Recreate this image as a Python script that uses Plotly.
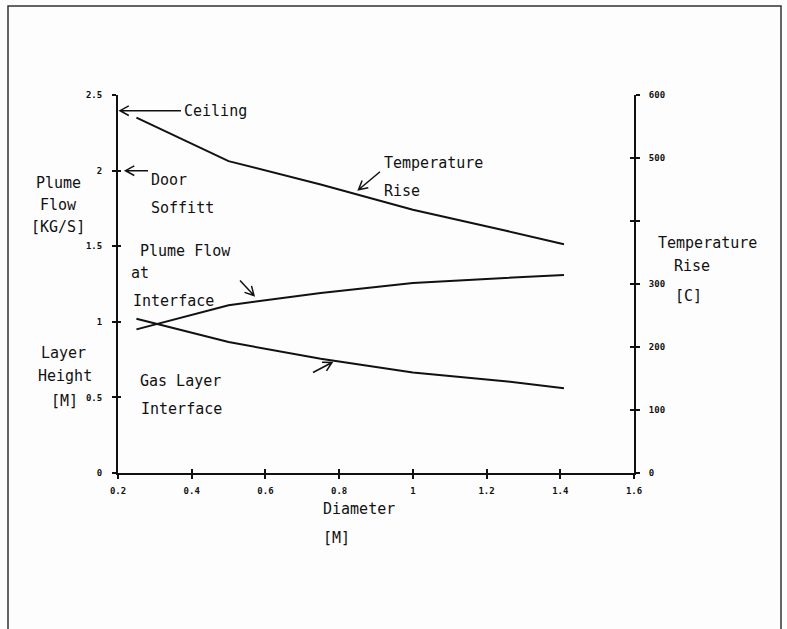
import math
import plotly.graph_objects as go

# ---- data ----
diameter = [0.25, 0.5, 0.75, 1.0, 1.25, 1.41]
temperature_rise = [564, 495, 458, 418, 385, 363]      # deg C (right axis)
plume_flow = [0.95, 1.11, 1.19, 1.256, 1.29, 1.309]   # kg/s (left axis)
layer_height = [1.02, 0.866, 0.755, 0.665, 0.607, 0.56]  # m (left axis)

x_ticks = [0.2, 0.4, 0.6, 0.8, 1.0, 1.2, 1.4, 1.6]
x_ticktext = ["0.2", "0.4", "0.6", "0.8", "1", "1.2", "1.4", "1.6"]
y_ticks = [0, 0.5, 1, 1.5, 2, 2.5]
y_ticktext = ["0", "0.5", "1", "1.5", "2", "2.5"]
y2_ticks = [0, 100, 200, 300, 400, 500, 600]
y2_ticktext = ["0", "100", "200", "300", "", "500", "600"]

W, H = 787, 629
L, R, T, B = 118, 634, 95, 473   # plot area in pixels

MONO = "DejaVu Sans Mono"
INK = "#111111"

fig = go.Figure()
line_style = dict(color=INK, width=2)
fig.add_trace(go.Scatter(x=diameter, y=temperature_rise, mode="lines", line=line_style,
                         yaxis="y2", showlegend=False, hoverinfo="skip"))
fig.add_trace(go.Scatter(x=diameter, y=plume_flow, mode="lines", line=line_style,
                         showlegend=False, hoverinfo="skip"))
fig.add_trace(go.Scatter(x=diameter, y=layer_height, mode="lines", line=line_style,
                         showlegend=False, hoverinfo="skip"))
# helper traces so the inner half of the crossing ticks are drawn
fig.add_trace(go.Scatter(x=[None], y=[None], xaxis="x2", yaxis="y3", showlegend=False, hoverinfo="skip"))
fig.add_trace(go.Scatter(x=[None], y=[None], xaxis="x2", yaxis="y4", showlegend=False, hoverinfo="skip"))

tickfont = dict(family=MONO, size=9, color=INK, weight="bold")
common = dict(showgrid=False, zeroline=False, ticks="outside", ticklen=4, tickwidth=1.5,
              tickcolor=INK, tickfont=tickfont)

fig.update_layout(
    width=W, height=H,
    margin=dict(l=L, r=W - R, t=T, b=H - B, pad=0),
    paper_bgcolor="#fdfdfd", plot_bgcolor="#fdfdfd",
    xaxis=dict(range=[0.2, 1.6], tickvals=x_ticks, ticktext=x_ticktext, showline=True,
               linewidth=2, linecolor=INK, ticklabelstandoff=4, **common),
    yaxis=dict(range=[0, 2.5], tickvals=y_ticks, ticktext=y_ticktext, showline=True,
               linewidth=2, linecolor=INK, ticklabelstandoff=8, **common),
    yaxis2=dict(range=[0, 600], tickvals=y2_ticks, ticktext=y2_ticktext, overlaying="y",
                side="right", anchor="x", showline=True, linewidth=2, linecolor=INK,
                ticklabelstandoff=7, **common),
    xaxis2=dict(range=[0.2, 1.6], tickvals=x_ticks, overlaying="x", anchor="y3", side="bottom",
                showgrid=False, zeroline=False, showticklabels=False, ticks="inside",
                ticklen=4, tickwidth=1.5, tickcolor=INK, showline=False),
    yaxis3=dict(range=[0, 2.5], tickvals=y_ticks, overlaying="y", side="left", anchor="x2",
                showgrid=False, zeroline=False, showticklabels=False, ticks="inside",
                ticklen=3, tickwidth=1.5, tickcolor=INK, showline=False),
    yaxis4=dict(range=[0, 600], tickvals=y2_ticks, overlaying="y", side="right", anchor="x2",
                showgrid=False, zeroline=False, showticklabels=False, ticks="inside",
                ticklen=4, tickwidth=1.5, tickcolor=INK, showline=False),
)


def pp(x, y):
    """pixel -> paper coordinates"""
    return (x - L) / (R - L), (B - y) / (B - T)


def text(s, x, y, anchor="left", size=15):
    px, py = pp(x, y)
    fig.add_annotation(text=s, x=px, y=py, xref="paper", yref="paper", xanchor=anchor,
                       yanchor="middle", showarrow=False,
                       font=dict(family=MONO, size=size, color=INK))


def arrow(x0, y0, x1, y1, head=10, spread=0.5):
    ang = math.atan2(y0 - y1, x0 - x1)
    h1 = (x1 + head * math.cos(ang + spread), y1 + head * math.sin(ang + spread))
    h2 = (x1 + head * math.cos(ang - spread), y1 + head * math.sin(ang - spread))
    pts = [pp(x0, y0), pp(x1, y1), pp(*h1), pp(*h2)]
    path = (f"M {pts[0][0]:.5f} {pts[0][1]:.5f} L {pts[1][0]:.5f} {pts[1][1]:.5f} "
            f"M {pts[2][0]:.5f} {pts[2][1]:.5f} L {pts[1][0]:.5f} {pts[1][1]:.5f} "
            f"L {pts[3][0]:.5f} {pts[3][1]:.5f}")
    fig.add_shape(type="path", path=path, xref="paper", yref="paper",
                  line=dict(color=INK, width=1.5))


# outer frame
fx0, fy0 = pp(8, 6)
fx1, fy1 = pp(781, 650)
fig.add_shape(type="rect", xref="paper", yref="paper", x0=fx0, y0=fy1, x1=fx1, y1=fy0,
              line=dict(color="#333333", width=1.5))

# in-plot labels
text("Ceiling", 182, 111)
arrow(181, 110.7, 120, 110.7)
text("Door", 149, 180)
text("Soffitt", 149, 208)
arrow(148, 170.7, 125.5, 170.7)
text("Temperature", 382, 163)
text("Rise", 382, 191)
arrow(380, 171.7, 358.5, 189.8)
text("Plume Flow", 138, 251)
text("at", 129, 273)
text("Interface", 131, 301)
arrow(240, 280.5, 254, 295.5)
text("Gas Layer", 138, 381)
text("Interface", 139, 409)
arrow(313, 372.5, 332, 362.5)

# left axis titles
text("Plume", 58, 183, anchor="center")
text("Flow", 58, 205, anchor="center")
text("[KG/S]", 58, 227, anchor="center")
text("Layer", 63, 353, anchor="center")
text("Height", 65, 376, anchor="center")
text("[M]", 64, 401, anchor="center")

# right axis titles
text("Temperature", 656, 243)
text("Rise", 672, 266)
text("[C]", 673, 296)

# x axis title
text("Diameter", 321, 509)
text("[M]", 321, 538)

fig.write_html(
    "out.html",
    config={"displayModeBar": False},
    post_script="document.body.style.margin='0';document.body.style.overflow='hidden';",
)
